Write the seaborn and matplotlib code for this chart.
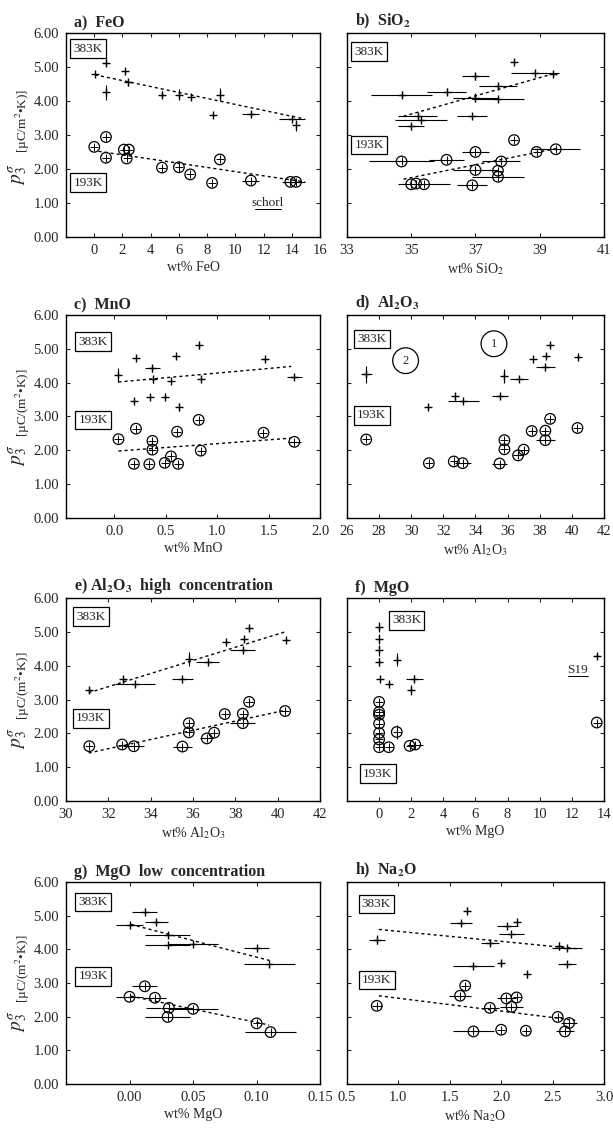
import numpy as np
import matplotlib
matplotlib.use('Agg')
import matplotlib.pyplot as plt
import seaborn as sns

# a) FeO
feo_hot_x = [0.05, 0.8, 0.8, 2.15, 2.4, 4.8, 6.0, 6.85, 8.4, 8.9, 11.1, 14.0, 14.3]
feo_hot_y = [4.80, 5.12, 4.25, 4.87, 4.55, 4.19, 4.19, 4.11, 3.60, 4.19, 3.62, 3.48, 3.28]
feo_hot_xe = [0, 0, 0, 0, 0, 0.2, 0, 0, 0, 0, 0.6, 0.9, 0]
feo_hot_ye = [0, 0.1, 0.22, 0.05, 0.1, 0.1, 0.15, 0, 0, 0.2, 0.08, 0, 0.15]
feo_cold_x = [0.0, 0.83, 0.83, 2.1, 2.45, 2.3, 4.8, 6.0, 6.8, 8.35, 8.9, 11.1, 13.9, 14.3]
feo_cold_y = [2.65, 2.94, 2.33, 2.57, 2.57, 2.31, 2.04, 2.05, 1.84, 1.59, 2.28, 1.66, 1.62, 1.62]
feo_cold_xe = [0, 0, 0, 0, 0, 0, 0, 0, 0, 0, 0, 0.6, 0.6, 0.6]
feo_cold_ye = [0, 0, 0, 0, 0, 0, 0, 0.15, 0, 0, 0, 0, 0, 0]
feo_trend_x_hot = [0.05, 14.9]
feo_trend_x_cold = [0.3, 14.9]
feo_trend_hot = [4.77, 3.47]
feo_trend_cold = [2.52, 1.62]

# b) SiO2
sio2_hot_x = [38.2, 38.85, 39.4, 37.0, 37.7, 34.7, 36.1, 37.0, 37.7, 36.9, 35.2, 35.3, 35.0]
sio2_hot_y = [5.15, 4.82, 4.80, 4.73, 4.45, 4.18, 4.27, 4.10, 4.05, 3.57, 3.55, 3.45, 3.25]
sio2_hot_xe = [0, 0.75, 0, 0.42, 0.6, 0.95, 0.6, 0.7, 0.8, 0.47, 0.6, 0.8, 0.4]
sio2_hot_ye = [0, 0, 0, 0.1, 0, 0.1, 0.1, 0.12, 0, 0, 0.1, 0, 0.1]
sio2_cold_x = [38.2, 38.9, 39.5, 37.0, 34.7, 36.1, 37.8, 37.0, 37.7, 37.7, 35.0, 35.15, 35.4, 36.9]
sio2_cold_y = [2.85, 2.50, 2.58, 2.50, 2.22, 2.27, 2.22, 1.97, 1.95, 1.77, 1.55, 1.57, 1.55, 1.52]
sio2_cold_xe = [0, 0, 0.75, 0.42, 1.0, 0.55, 0.6, 0.7, 0, 0.8, 0, 0, 0.8, 0.47]
sio2_cold_ye = [0, 0, 0, 0, 0, 0, 0, 0.12, 0, 0, 0, 0, 0, 0]
sio2_trend_x = [34.76, 39.5]
sio2_trend_hot = [3.55, 4.82]
sio2_trend_cold = [1.70, 2.60]

# c) MnO
mno_hot_x = [0.04, 0.21, 0.37, 0.38, 0.55, 0.60, 0.82, 0.84, 1.46, 1.75, 0.19, 0.35, 0.49, 0.63]
mno_hot_y = [4.22, 4.72, 4.42, 4.10, 4.05, 4.80, 5.10, 4.12, 4.70, 4.18, 3.45, 3.58, 3.58, 3.28]
mno_hot_xe = [0, 0, 0.07, 0, 0, 0, 0, 0, 0.03, 0.07, 0, 0, 0, 0]
mno_hot_ye = [0.2, 0, 0.1, 0.1, 0, 0, 0.1, 0, 0, 0, 0, 0, 0, 0.12]
mno_cold_x = [0.04, 0.21, 0.37, 0.37, 0.61, 0.82, 0.84, 0.19, 0.34, 0.49, 0.55, 0.62, 1.45, 1.75]
mno_cold_y = [2.33, 2.64, 2.28, 2.02, 2.55, 2.90, 1.99, 1.60, 1.59, 1.63, 1.82, 1.60, 2.52, 2.25]
mno_cold_xe = [0, 0, 0, 0, 0, 0, 0, 0, 0, 0, 0, 0, 0, 0.06]
mno_cold_ye = [0] * 14
mno_trend_x = [0.04, 1.72]
mno_trend_hot = [4.02, 4.48]
mno_trend_cold = [1.98, 2.36]

# d), e) Al2O3
al_hot_x = [27.2, 31.07, 32.7, 33.25, 35.5, 35.8, 36.7, 37.55, 38.4, 38.65, 38.35, 40.4]
al_hot_y = [4.25, 3.28, 3.60, 3.46, 3.62, 4.20, 4.10, 4.71, 4.80, 5.10, 4.46, 4.76]
al_hot_xe = [0.35, 0, 0, 0.95, 0.5, 0, 0.55, 0, 0, 0, 0.6, 0]
al_hot_ye = [0.25, 0.08, 0.1, 0, 0, 0.2, 0, 0, 0.08, 0.08, 0, 0.05]
al_cold_x = [27.2, 31.1, 32.65, 33.2, 35.5, 35.8, 35.8, 36.65, 37.0, 37.5, 38.35, 38.35, 38.65, 40.35]
al_cold_y = [2.32, 1.62, 1.67, 1.62, 1.61, 2.30, 2.03, 1.85, 2.02, 2.57, 2.58, 2.30, 2.93, 2.66]
al_cold_xe = [0, 0, 0, 0.5, 0.45, 0, 0, 0.3, 0, 0, 0, 0.6, 0, 0]
al_cold_ye = [0] * 14
al_trend_x = [31.07, 40.4]
al_trend_hot = [3.20, 5.01]
al_trend_cold = [1.42, 2.69]
al_group_labels = ['1', '2']
al_group_x = [35.15, 29.65]
al_group_y = [5.15, 4.65]

# f) MgO
mgo_hot_x = [0.0, 0.0, 0.0, 0.0, 0.05, 0.6, 1.1, 2.2, 2.0, 13.55]
mgo_hot_y = [5.15, 4.80, 4.45, 4.12, 3.62, 3.47, 4.18, 3.62, 3.27, 4.29]
mgo_hot_xe = [0, 0, 0, 0, 0, 0, 0, 0.55, 0, 0.15]
mgo_hot_ye = [0.15, 0.15, 0.15, 0.12, 0, 0.05, 0.2, 0.1, 0.15, 0.1]
mgo_cold_x = [0, 0, 0, 0, 0, 0, 0, 0.6, 1.1, 1.9, 2.25, 13.55]
mgo_cold_y = [2.93, 2.63, 2.55, 2.29, 2.01, 1.82, 1.59, 1.59, 2.04, 1.63, 1.67, 2.32]
mgo_cold_xe = [0, 0, 0, 0, 0, 0, 0, 0, 0, 0, 0.5, 0]
mgo_cold_ye = [0, 0, 0, 0, 0, 0, 0, 0, 0.2, 0, 0, 0]

# g) MgO low concentration
mgol_hot_x = [0.0, 0.012, 0.021, 0.030, 0.030, 0.050, 0.100, 0.110]
mgol_hot_y = [4.72, 5.11, 4.82, 4.42, 4.13, 4.17, 4.03, 3.57]
mgol_hot_xe = [0.011, 0.01, 0.009, 0.018, 0.018, 0.02, 0.01, 0.02]
mgol_hot_ye = [0] * 8
mgol_cold_x = [0.0, 0.012, 0.020, 0.031, 0.030, 0.050, 0.100, 0.111]
mgol_cold_y = [2.59, 2.90, 2.56, 2.26, 1.99, 2.23, 1.80, 1.54]
mgol_cold_xe = [0.011, 0.01, 0.009, 0.018, 0.018, 0.02, 0, 0.02]
mgol_cold_ye = [0] * 8
mgol_trend_x = [0.001, 0.11]
mgol_trend_hot = [4.74, 3.67]
mgol_trend_cold = [2.61, 1.75]

# h) Na2O
na_hot_x = [0.79, 1.67, 1.61, 2.06, 2.15, 2.10, 1.89, 2.56, 2.64, 1.73, 2.00, 2.25, 2.64]
na_hot_y = [4.29, 5.15, 4.78, 4.69, 4.82, 4.44, 4.19, 4.11, 4.04, 3.49, 3.59, 3.26, 3.57]
na_hot_xe = [0.08, 0, 0.11, 0.1, 0, 0.12, 0.09, 0, 0.15, 0.2, 0, 0, 0.09]
na_hot_ye = [0.12, 0.1, 0, 0, 0.05, 0, 0.1, 0.12, 0, 0, 0.1, 0.1, 0]
na_cold_x = [0.79, 1.65, 1.60, 2.05, 2.15, 1.89, 2.10, 2.55, 2.66, 2.62, 1.73, 2.00, 2.24]
na_cold_y = [2.32, 2.92, 2.62, 2.54, 2.57, 2.26, 2.29, 1.99, 1.81, 1.56, 1.56, 1.61, 1.58]
na_cold_xe = [0.05, 0, 0.11, 0.09, 0, 0.09, 0.11, 0, 0.08, 0.09, 0.2, 0, 0]
na_cold_ye = [0] * 13
na_trend_x_hot = [0.81, 2.76]
na_trend_hot = [4.59, 4.01]
na_trend_x_cold = [0.81, 2.72]
na_trend_cold = [2.62, 1.89]

y_ticks = [0, 1, 2, 3, 4, 5, 6]

sns.set_theme(style='ticks')
plt.rcParams['font.family'] = ['Liberation Serif', 'DejaVu Serif']
plt.rcParams['mathtext.fontset'] = 'stix'

DASH = (0, (2.2, 2.2))


def draw_series(ax, x, y, xe, ye, hot):
    """Error bars plus '+' (383K) or circled '+' (193K) markers"""
    ax.errorbar(x, y, xerr=xe, yerr=ye, fmt='none', ecolor='black',
                elinewidth=0.8, capsize=0, zorder=2)
    if not hot:
        sns.scatterplot(x=x, y=y, marker='o', s=58, color='black', facecolor='none',
                        edgecolor='black', linewidth=0.9, ax=ax, zorder=3)
    sns.scatterplot(x=x, y=y, marker='+', s=40 if hot else 38, color='black',
                    linewidth=1.0 if hot else 0.7, ax=ax, zorder=4)


def draw_trend(ax, x, y):
    sns.lineplot(x=x, y=y, color='black', linestyle=DASH, linewidth=1.0, ax=ax, zorder=1)


def temp_box(ax, xf, yf, label):
    ax.text(xf, yf, label, transform=ax.transAxes, ha='left', va='center', fontsize=9.5,
            bbox=dict(boxstyle='square,pad=0.25', fc='white', ec='black', lw=0.9), zorder=5)


def setup(ax, title, xlabel, xlim, xticks, fmt, left_col, units=None):
    ax.set_xlim(*xlim)
    ax.set_ylim(0, 6)
    ax.set_xticks(xticks)
    ax.set_xticklabels([fmt.format(t) for t in xticks])
    ax.set_yticks(y_ticks)
    ax.set_yticklabels([f'{t:.2f}' for t in y_ticks])
    ax.tick_params(direction='in', top=True, right=True, length=3, width=0.8,
                   labelsize=10.5, labelleft=left_col, pad=5)
    for sp in ax.spines.values():
        sp.set_linewidth(1.0)
        sp.set_color('black')
    ax.set_xlabel(xlabel, fontsize=10, labelpad=3)
    ax.set_ylabel('')
    ax.text(0.03, 1.01, title, transform=ax.transAxes, fontsize=11.5,
            fontweight='bold', ha='left', va='bottom')
    if left_col:
        ax.text(-0.19, 0.31, r'$p_3^{\sigma}$', transform=ax.transAxes, rotation=90,
                fontsize=14, ha='center', va='center')
        ax.text(-0.168, 0.57, units, transform=ax.transAxes, rotation=90,
                fontsize=9.5, ha='center', va='center')


fig = plt.figure(figsize=(6.13, 11.29), dpi=100)

col_l = [0.1077, 0.566]
col_w = [0.4144, 0.4193]
rows = [(0.7901, 0.1807), (0.5412, 0.1798), (0.2905, 0.1798), (0.0399, 0.1789)]
axes = [[fig.add_axes([col_l[c], rows[r][0], col_w[c], rows[r][1]]) for c in range(2)]
        for r in range(4)]

units_a = '[µC/m$^2$•K)]'
units = '[µC/(m$^2$•K)]'

# a) FeO
ax = axes[0][0]
draw_trend(ax, feo_trend_x_hot, feo_trend_hot)
draw_trend(ax, feo_trend_x_cold, feo_trend_cold)
draw_series(ax, feo_hot_x, feo_hot_y, feo_hot_xe, feo_hot_ye, True)
draw_series(ax, feo_cold_x, feo_cold_y, feo_cold_xe, feo_cold_ye, False)
setup(ax, 'a)  FeO', 'wt% FeO', (-2, 16), list(range(0, 17, 2)), '{:d}', True, units_a)
temp_box(ax, 0.03, 0.923, '383K')
temp_box(ax, 0.03, 0.267, '193K')
ax.text(0.795, 0.165, 'schorl', transform=ax.transAxes, ha='center', va='center', fontsize=9.5)
ax.plot([0.745, 0.848], [0.135, 0.135], transform=ax.transAxes, color='black', lw=0.7)

# b) SiO2
ax = axes[0][1]
draw_trend(ax, sio2_trend_x, sio2_trend_hot)
draw_trend(ax, sio2_trend_x, sio2_trend_cold)
draw_series(ax, sio2_hot_x, sio2_hot_y, sio2_hot_xe, sio2_hot_ye, True)
draw_series(ax, sio2_cold_x, sio2_cold_y, sio2_cold_xe, sio2_cold_ye, False)
setup(ax, r'b)  SiO$_\mathbf{2}$', 'wt% SiO$_2$', (33, 41), [33, 35, 37, 39, 41], '{:d}', False)
temp_box(ax, 0.03, 0.908, '383K')
temp_box(ax, 0.03, 0.45, '193K')

# c) MnO
ax = axes[1][0]
draw_trend(ax, mno_trend_x, mno_trend_hot)
draw_trend(ax, mno_trend_x, mno_trend_cold)
draw_series(ax, mno_hot_x, mno_hot_y, mno_hot_xe, mno_hot_ye, True)
draw_series(ax, mno_cold_x, mno_cold_y, mno_cold_xe, mno_cold_ye, False)
setup(ax, 'c)  MnO', 'wt% MnO', (-0.47, 2.0), [0.0, 0.5, 1.0, 1.5, 2.0], '{:.1f}', True, units)
temp_box(ax, 0.05, 0.868, '383K')
temp_box(ax, 0.05, 0.483, '193K')

# d) Al2O3
ax = axes[1][1]
draw_series(ax, al_hot_x, al_hot_y, al_hot_xe, al_hot_ye, True)
draw_series(ax, al_cold_x, al_cold_y, al_cold_xe, al_cold_ye, False)
setup(ax, r'd)  Al$_\mathbf{2}$O$_\mathbf{3}$', 'wt% Al$_2$O$_3$', (26, 42),
      list(range(26, 43, 2)), '{:d}', False)
temp_box(ax, 0.04, 0.882, '383K')
temp_box(ax, 0.04, 0.505, '193K')
for lab, gx, gy in zip(al_group_labels, al_group_x, al_group_y):
    ax.text(gx, gy, lab, ha='center', va='center', fontsize=9,
            bbox=dict(boxstyle='circle,pad=0.55', fc='none', ec='black', lw=0.9))

# e) Al2O3 high concentration (same samples, Al2O3 > 30 wt%)
ax = axes[2][0]
hi_h = [i for i, v in enumerate(al_hot_x) if v > 30]
hi_c = [i for i, v in enumerate(al_cold_x) if v > 30]
draw_trend(ax, al_trend_x, al_trend_hot)
draw_trend(ax, al_trend_x, al_trend_cold)
draw_series(ax, [al_hot_x[i] for i in hi_h], [al_hot_y[i] for i in hi_h],
            [al_hot_xe[i] for i in hi_h], [al_hot_ye[i] for i in hi_h], True)
draw_series(ax, [al_cold_x[i] for i in hi_c], [al_cold_y[i] for i in hi_c],
            [al_cold_xe[i] for i in hi_c], [al_cold_ye[i] for i in hi_c], False)
setup(ax, r'e) Al$_\mathbf{2}$O$_\mathbf{3}$  high  concentration', 'wt% Al$_2$O$_3$',
      (30, 42), list(range(30, 43, 2)), '{:d}', True, units)
temp_box(ax, 0.04, 0.908, '383K')
temp_box(ax, 0.04, 0.407, '193K')

# f) MgO
ax = axes[2][1]
draw_series(ax, mgo_hot_x, mgo_hot_y, mgo_hot_xe, mgo_hot_ye, True)
draw_series(ax, mgo_cold_x, mgo_cold_y, mgo_cold_xe, mgo_cold_ye, False)
setup(ax, 'f)  MgO', 'wt% MgO', (-2, 14), list(range(0, 15, 2)), '{:d}', False)
temp_box(ax, 0.175, 0.89, '383K')
temp_box(ax, 0.063, 0.135, '193K')
ax.text(0.898, 0.645, 'S19', transform=ax.transAxes, ha='center', va='center', fontsize=9.5)
ax.plot([0.86, 0.937], [0.618, 0.618], transform=ax.transAxes, color='black', lw=0.7)

# g) MgO low concentration
ax = axes[3][0]
draw_trend(ax, mgol_trend_x, mgol_trend_hot)
draw_trend(ax, mgol_trend_x, mgol_trend_cold)
draw_series(ax, mgol_hot_x, mgol_hot_y, mgol_hot_xe, mgol_hot_ye, True)
draw_series(ax, mgol_cold_x, mgol_cold_y, mgol_cold_xe, mgol_cold_ye, False)
setup(ax, 'g)  MgO  low  concentration', 'wt% MgO', (-0.05, 0.15),
      [0.0, 0.05, 0.10, 0.15], '{:.2f}', True, units)
temp_box(ax, 0.05, 0.90, '383K')
temp_box(ax, 0.05, 0.533, '193K')

# h) Na2O
ax = axes[3][1]
draw_trend(ax, na_trend_x_hot, na_trend_hot)
draw_trend(ax, na_trend_x_cold, na_trend_cold)
draw_series(ax, na_hot_x, na_hot_y, na_hot_xe, na_hot_ye, True)
draw_series(ax, na_cold_x, na_cold_y, na_cold_xe, na_cold_ye, False)
setup(ax, r'h)  Na$_\mathbf{2}$O', 'wt% Na$_2$O', (0.5, 3.0),
      [0.5, 1.0, 1.5, 2.0, 2.5, 3.0], '{:.1f}', False)
temp_box(ax, 0.058, 0.89, '383K')
temp_box(ax, 0.058, 0.515, '193K')

fig.savefig('out.png', dpi=100, facecolor='white')
